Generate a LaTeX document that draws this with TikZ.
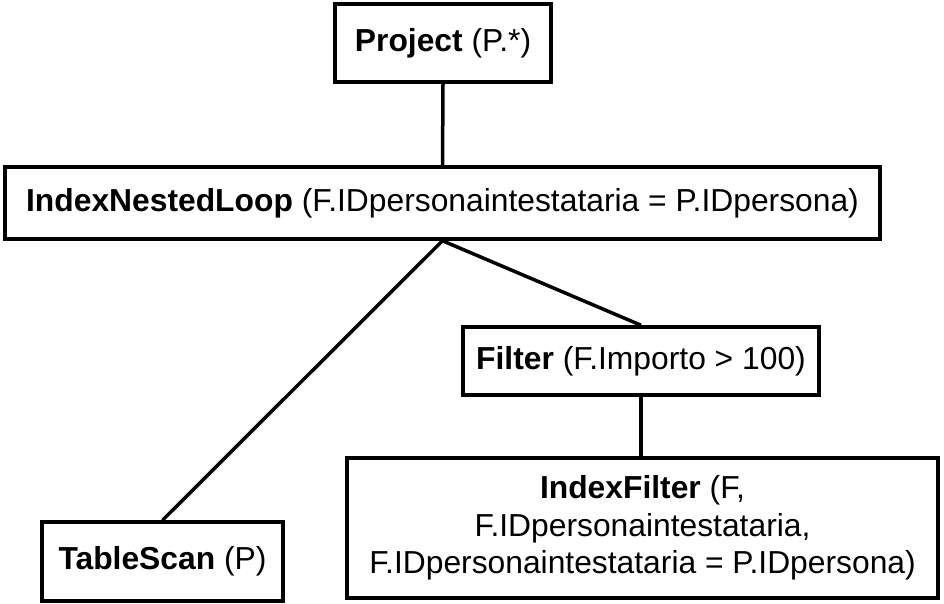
\documentclass[tikz,border=0pt]{standalone}
\usepackage{fontspec}
\setmainfont{Liberation Sans}
\begin{document}
\begin{tikzpicture}[x=1pt,y=-1pt,
  box/.style={draw=black,line width=3.5pt,fill=white,inner sep=0pt,align=center,
    font=\fontsize{31.8}{37.5}\selectfont},
  link/.style={draw=black,line width=3.5pt}]
\useasboundingbox (0,0) rectangle (944,604);
\node[box,minimum width=216pt,minimum height=78pt] (proj) at (443,43) {\textbf{Project} (P.*)};
\node[box,minimum width=875pt,minimum height=72pt] (inl) at (442.5,203) {\textbf{IndexNestedLoop} (F.IDpersonaintestataria = P.IDpersona)};
\node[box,minimum width=356pt,minimum height=68pt] (filt) at (641,361) {\textbf{Filter} (F.Importo > 100)};
\node[box,minimum width=591pt,minimum height=140pt] (ifilt) at (642.5,528) {\textbf{IndexFilter} (F,\\F.IDpersonaintestataria,\\F.IDpersonaintestataria = P.IDpersona)};
\node[box,minimum width=241pt,minimum height=79pt] (ts) at (162.5,561.5) {\textbf{TableScan} (P)};
\draw[link] (proj.south) -- (inl.north);
\draw[link] (inl.south) -- (ts.north);
\draw[link] (inl.south) -- (filt.north);
\draw[link] (filt.south) -- (filt.south |- ifilt.north);
\end{tikzpicture}
\end{document}
